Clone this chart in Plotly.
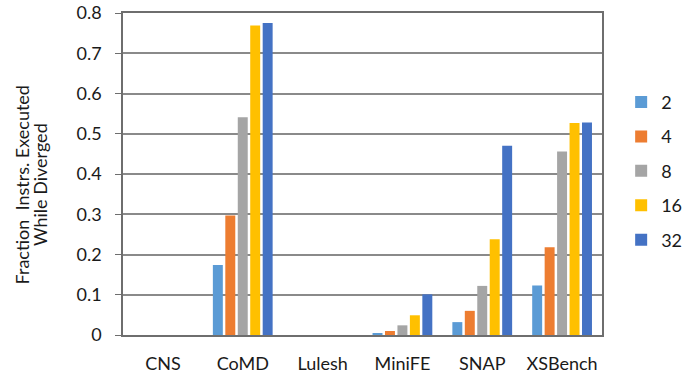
import plotly.graph_objects as go

# Benchmarks and the fraction of instructions executed while diverged,
# one series per configuration (2, 4, 8, 16, 32)
benchmarks = ["CNS", "CoMD", "Lulesh", "MiniFE", "SNAP", "XSBench"]
series_names = ["2", "4", "8", "16", "32"]
vals_2 = [0, 0.174, 0, 0.003, 0.032, 0.123]
vals_4 = [0, 0.297, 0, 0.010, 0.060, 0.218]
vals_8 = [0, 0.541, 0, 0.024, 0.122, 0.456]
vals_16 = [0, 0.769, 0, 0.049, 0.238, 0.527]
vals_32 = [0, 0.775, 0, 0.101, 0.470, 0.528]
y_ticks = [0, 0.1, 0.2, 0.3, 0.4, 0.5, 0.6, 0.7, 0.8]
y_tick_text = ["0", "0.1", "0.2", "0.3", "0.4", "0.5", "0.6", "0.7", "0.8"]
title_lines = ["Fraction  Instrs. Executed", "While Diverged"]

colors = ["#5B9BD5", "#ED7D31", "#A5A5A5", "#FFC000", "#4472C4"]
all_vals = [vals_2, vals_4, vals_8, vals_16, vals_32]

font_family = "Lato, 'Open Sans', sans-serif"
text_color = "#1a1a1a"

fig = go.Figure()
for name, vals, col in zip(series_names, all_vals, colors):
    fig.add_trace(go.Bar(
        x=benchmarks, y=vals, name=name, legendgroup=name,
        marker=dict(color=col, line=dict(width=0)),
    ))

# Two-line rotated axis title, drawn as separate lines for tight spacing
for line, xpos in zip(title_lines, [-0.212, -0.173]):
    fig.add_annotation(
        text=line, xref="paper", yref="paper", x=xpos, y=0.466,
        xanchor="center", yanchor="middle", textangle=-90, showarrow=False,
        font=dict(size=18, color=text_color, family=font_family),
    )

fig.update_layout(
    width=699, height=377,
    margin=dict(l=123, r=86, t=13, b=42),
    paper_bgcolor="white", plot_bgcolor="white",
    barmode="group", bargap=0.22, bargroupgap=0.2,
    font=dict(family=font_family, color=text_color),
    legend=dict(
        x=1.04, y=0.78, xanchor="left", yanchor="top",
        font=dict(size=18, color=text_color, family=font_family),
        traceorder="grouped", tracegroupgap=8,
        itemwidth=30, bgcolor="rgba(0,0,0,0)",
    ),
    xaxis=dict(
        showline=True, linecolor="#6e6e6e", linewidth=1.5, mirror=True,
        ticks="", tickfont=dict(size=18, color=text_color),
        ticklabelstandoff=12, showgrid=False, automargin=False,
    ),
    yaxis=dict(
        range=[0, 0.8], tickvals=y_ticks, ticktext=y_tick_text,
        showline=True, linecolor="#6e6e6e", linewidth=1.5, mirror=True,
        ticks="outside", ticklen=6, tickcolor="#6e6e6e",
        showgrid=True, gridcolor="#8a8a8a", gridwidth=1.5,
        tickfont=dict(size=18, color=text_color),
        ticklabelstandoff=10, zeroline=False, automargin=False,
    ),
)

fig.write_html("out.html")
